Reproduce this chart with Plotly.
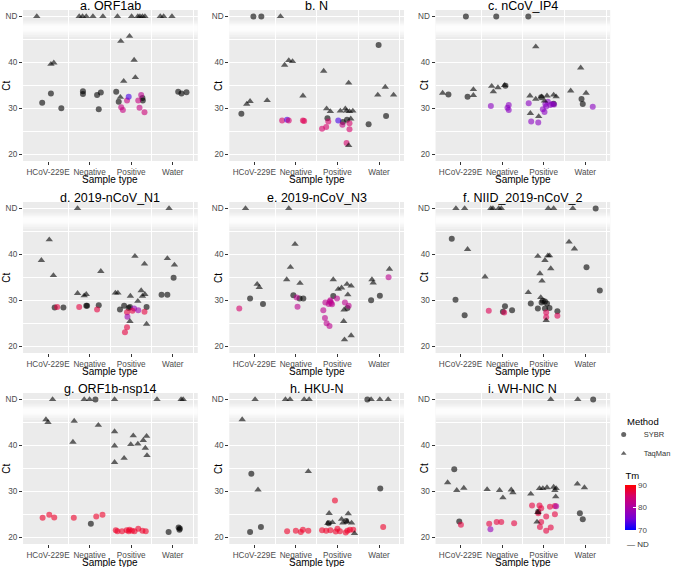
import plotly.graph_objects as go
from plotly.subplots import make_subplots

W, H = 676, 567

CATEGORIES = ["HCoV-229E", "Negative", "Positive", "Water"]
TITLES = ["a. ORF1ab", "b. N", "c. nCoV_IP4",
          "d. 2019-nCoV_N1", "e. 2019-nCoV_N3", "f. NIID_2019-nCoV_2",
          "g. ORF1b-nsp14", "h. HKU-N", "i. WH-NIC N"]
ND = "ND"
ND_LEVEL = 50
CT_TICKS = [20, 30, 40, ND_LEVEL]
CT_LABELS = ["20", "30", "40", "ND"]

# (jittered sample type position, Ct or "ND", method S=SYBR / T=TaqMan, Tm or None)
ORF1AB = [
    (0.73, ND, "T", None), (1.75, ND, "T", None), (1.83, ND, "T", None), (1.92, ND, "T", None),
    (2.08, ND, "T", None), (2.32, ND, "T", None), (2.67, ND, "T", None), (3.01, ND, "T", None),
    (3.16, ND, "T", None), (3.21, ND, "T", None), (3.27, ND, "T", None), (3.33, ND, "T", None),
    (3.70, ND, "T", None), (3.78, ND, "T", None), (3.98, ND, "T", None),
    (0.86, 31.2, "S", None), (1.07, 33.2, "S", None), (1.07, 39.6, "T", None), (1.14, 39.9, "T", None),
    (1.32, 30.0, "S", None), (1.84, 33.7, "S", None), (1.84, 33.1, "S", None), (2.18, 32.9, "S", None),
    (2.27, 33.4, "S", None), (2.22, 29.8, "S", None), (2.75, 44.6, "T", None), (2.96, 45.7, "T", None),
    (3.07, 40.5, "T", None), (3.10, 36.7, "T", None), (2.82, 35.9, "T", None), (2.64, 33.6, "S", None),
    (2.74, 32.4, "T", None), (2.70, 31.4, "S", None), (2.76, 30.2, "S", 83), (2.80, 29.6, "S", 83),
    (2.90, 31.7, "S", 83), (2.94, 32.5, "S", 73), (3.17, 31.7, "S", 83), (3.20, 30.1, "S", 83),
    (3.24, 32.9, "S", 82), (3.27, 32.2, "S", None), (3.28, 31.7, "S", None), (3.32, 29.1, "S", 84),
    (4.13, 33.6, "S", None), (4.21, 33.2, "S", None), (4.33, 33.5, "S", None),
]
N = [
    (0.98, ND, "S", None), (1.17, ND, "S", None), (1.63, ND, "T", None),
    (0.69, 28.8, "S", None), (0.82, 30.9, "T", None), (0.90, 31.5, "T", None), (1.31, 31.7, "T", None),
    (1.73, 39.4, "T", None), (1.83, 40.4, "T", None), (1.92, 40.2, "T", None), (2.17, 32.7, "T", None),
    (1.67, 27.3, "S", 85), (1.79, 27.5, "S", 73), (1.83, 27.3, "S", 85), (2.17, 27.3, "S", 86),
    (2.20, 27.2, "S", 86),
    (2.67, 38.1, "T", None), (2.74, 29.9, "T", None), (2.83, 29.3, "T", None), (2.76, 27.8, "S", None),
    (2.78, 27.1, "S", 85), (2.63, 25.5, "S", 85), (2.73, 25.9, "S", 85), (3.02, 27.3, "S", 73),
    (3.07, 29.4, "T", None), (3.19, 29.9, "T", None), (3.22, 29.4, "T", None), (3.27, 35.5, "T", None),
    (3.29, 29.3, "T", None), (3.37, 29.4, "T", None), (3.13, 27.0, "S", None), (3.12, 26.4, "S", 83),
    (3.29, 26.7, "S", 85), (3.29, 25.4, "S", 85), (3.32, 27.7, "T", None), (3.23, 27.5, "S", None),
    (3.22, 22.4, "S", 85), (3.27, 21.9, "T", None),
    (3.97, 32.9, "T", None), (4.15, 34.6, "T", None), (4.35, 32.9, "T", None), (3.99, 43.8, "S", None),
    (3.75, 26.5, "S", None), (4.17, 28.3, "S", None),
]
NCOV_IP4 = [
    (1.13, ND, "S", None), (1.86, ND, "S", None), (2.63, ND, "S", None),
    (0.57, 33.3, "T", None), (0.71, 33.0, "S", None), (1.17, 32.5, "S", None), (1.31, 34.1, "T", None),
    (1.31, 32.8, "T", None),
    (1.75, 34.8, "T", None), (1.79, 33.6, "T", None), (1.90, 34.5, "T", None), (2.06, 35.0, "T", None),
    (2.08, 34.9, "S", None), (1.73, 30.5, "S", 77), (2.13, 30.1, "S", 77), (2.16, 30.7, "S", 77),
    (2.16, 29.6, "S", 77),
    (2.81, 43.4, "T", None), (2.67, 32.7, "T", None), (2.81, 32.0, "T", None), (2.94, 32.4, "S", None),
    (2.95, 32.5, "T", None), (3.08, 32.7, "T", None), (3.24, 32.9, "T", None), (3.30, 32.5, "T", None),
    (3.02, 31.6, "T", None), (2.64, 31.1, "S", 77), (3.10, 31.4, "S", 77), (3.04, 30.9, "S", 77),
    (3.06, 30.4, "S", 77), (2.98, 29.8, "S", 77), (3.02, 29.2, "S", 77), (3.16, 30.7, "S", 77),
    (3.21, 30.9, "S", 77), (3.25, 30.8, "S", 77), (3.24, 31.0, "S", None), (2.68, 28.9, "T", None),
    (2.88, 28.2, "T", None), (2.70, 27.1, "S", 77), (2.87, 26.9, "S", 77),
    (3.65, 33.8, "T", None), (3.89, 38.8, "T", None), (4.02, 33.3, "T", None), (3.91, 32.0, "S", None),
    (3.94, 30.9, "S", None), (4.18, 30.3, "S", 77),
]
NCOV_N1 = [
    (1.71, ND, "T", None), (3.91, ND, "T", None),
    (0.84, 38.7, "T", None), (1.03, 43.2, "T", None), (1.13, 35.4, "T", None), (1.16, 28.4, "S", None),
    (1.22, 28.5, "S", 87), (1.37, 28.4, "S", None),
    (1.71, 31.5, "T", None), (1.87, 31.0, "T", None), (1.92, 31.3, "T", None), (1.92, 28.8, "S", None),
    (1.94, 28.8, "S", None), (1.75, 28.5, "S", 87), (2.27, 36.3, "T", None), (2.22, 28.9, "S", None),
    (2.18, 28.0, "S", 87),
    (2.62, 31.6, "T", None), (2.68, 31.6, "T", None), (2.73, 28.0, "S", None), (2.83, 28.8, "S", None),
    (2.98, 30.9, "T", None), (3.09, 39.6, "T", None), (3.24, 32.1, "T", None), (3.27, 30.9, "T", None),
    (3.33, 31.3, "T", None), (3.32, 37.9, "T", None), (3.16, 29.8, "T", None), (2.97, 28.5, "S", None),
    (2.94, 28.3, "S", None), (2.90, 27.4, "S", 87), (2.91, 26.4, "S", 79), (2.90, 24.1, "S", 87),
    (2.85, 23.0, "S", 87), (3.07, 28.2, "S", 78), (3.03, 27.7, "S", 87), (3.17, 27.8, "S", 79),
    (3.32, 27.5, "S", 87), (3.37, 28.5, "S", None), (2.97, 25.4, "T", None), (3.37, 24.8, "T", None),
    (3.73, 31.2, "S", None), (3.87, 31.2, "S", None), (3.87, 39.1, "T", None), (4.04, 37.7, "T", None),
    (4.02, 34.9, "S", None),
]
NCOV_N3 = [
    (0.79, ND, "T", None), (1.83, ND, "T", None),
    (0.64, 28.2, "S", 85), (0.90, 30.4, "S", None), (1.07, 33.5, "T", None), (1.12, 32.8, "T", None),
    (1.21, 29.2, "S", None),
    (1.98, 42.2, "T", None), (1.87, 37.2, "T", None), (1.78, 34.5, "T", None), (2.10, 33.7, "T", None),
    (1.94, 31.1, "S", None), (2.02, 30.6, "S", 82), (2.09, 30.4, "S", None), (2.18, 30.4, "S", None),
    (2.04, 28.6, "S", 82),
    (2.90, 34.5, "T", None), (3.02, 32.4, "T", None), (3.10, 32.7, "T", None), (3.23, 33.5, "T", None),
    (3.33, 33.1, "T", None), (2.90, 30.9, "S", None), (2.99, 30.4, "S", 82), (2.82, 29.7, "S", 82),
    (2.71, 29.5, "S", 82), (2.79, 29.2, "S", 82), (2.83, 30.0, "S", 82), (2.87, 29.1, "S", 82),
    (2.85, 29.4, "S", 82), (2.66, 27.8, "S", 82), (2.70, 26.1, "S", 82), (2.74, 25.0, "S", 82),
    (2.81, 24.4, "S", 82), (3.18, 29.5, "S", 82), (3.27, 28.8, "S", 82), (3.25, 31.2, "T", None),
    (3.24, 28.3, "S", None), (3.16, 27.9, "T", None), (3.15, 25.4, "T", None), (3.17, 21.4, "T", None),
    (3.33, 22.3, "T", None),
    (3.83, 34.5, "T", None), (3.86, 33.8, "T", None), (3.81, 30.0, "S", None), (4.02, 31.0, "S", None),
    (4.25, 36.8, "T", None), (4.23, 35.0, "S", 82),
]
NIID_2 = [
    (0.89, ND, "T", None), (1.10, ND, "T", None), (1.73, ND, "T", None), (1.78, ND, "T", None),
    (1.92, ND, "T", None), (1.98, ND, "T", None), (3.11, ND, "T", None), (3.24, ND, "T", None),
    (3.70, ND, "T", None), (4.25, ND, "S", None),
    (0.79, 43.4, "S", None), (1.17, 41.1, "T", None), (0.88, 30.1, "S", None), (1.10, 26.7, "S", None),
    (1.59, 35.1, "T", None), (1.68, 27.7, "S", 86), (2.07, 28.7, "S", None), (2.02, 27.5, "S", None),
    (2.05, 27.3, "S", 86), (2.24, 27.8, "S", None),
    (2.86, 39.6, "T", None), (3.10, 39.7, "T", None), (3.14, 39.7, "T", None), (3.03, 38.7, "T", None),
    (3.17, 36.9, "T", None), (2.91, 35.8, "T", None), (2.96, 34.2, "T", None), (2.63, 31.7, "T", None),
    (2.93, 30.6, "T", None), (2.69, 29.3, "S", None), (2.95, 29.5, "S", None), (2.98, 29.9, "S", None),
    (3.03, 29.7, "S", None), (3.08, 29.3, "S", None), (2.86, 28.2, "S", None), (3.03, 28.2, "S", None),
    (3.14, 28.3, "S", None), (3.06, 27.3, "S", 86), (3.06, 26.3, "S", 86), (3.06, 25.6, "T", None),
    (3.33, 27.6, "S", None), (3.33, 26.6, "S", 86),
    (3.61, 42.7, "T", None), (3.74, 41.2, "T", None), (4.03, 37.2, "S", None), (4.35, 32.1, "S", None),
]
ORF1B_NSP14 = [
    (1.11, ND, "T", None), (1.87, ND, "T", None), (2.00, ND, "T", None), (2.14, ND, "S", None),
    (2.60, ND, "T", None), (3.62, ND, "T", None), (4.20, ND, "T", None), (4.25, ND, "T", None),
    (0.95, 45.6, "T", None), (1.00, 45.0, "T", None), (0.87, 24.2, "S", 88), (1.03, 24.9, "S", 88),
    (1.15, 24.3, "S", 88),
    (1.63, 45.3, "T", None), (1.60, 40.7, "T", None), (2.21, 44.4, "T", None), (1.62, 24.2, "S", 88),
    (2.03, 22.9, "S", None), (2.16, 24.5, "S", 88), (2.31, 24.9, "S", 88),
    (2.60, 43.0, "T", None), (2.60, 39.9, "T", None), (2.60, 36.3, "T", None), (2.83, 37.2, "T", None),
    (2.99, 40.2, "T", None), (3.05, 42.1, "T", None), (3.16, 40.3, "T", None), (3.29, 41.1, "T", None),
    (3.37, 42.0, "T", None), (3.34, 39.4, "T", None), (3.38, 37.8, "T", None),
    (2.63, 21.5, "S", 88), (2.67, 21.3, "S", 88), (2.78, 21.3, "S", 88), (2.89, 21.5, "S", 88),
    (2.94, 21.3, "S", 88), (2.96, 21.6, "S", 88), (3.02, 21.4, "S", 88), (3.08, 21.3, "S", 88),
    (3.17, 21.8, "S", 88), (3.27, 21.4, "S", 88), (3.35, 21.3, "S", 88),
    (3.90, 21.1, "S", None), (4.14, 22.1, "S", None), (4.16, 21.6, "S", None), (4.17, 21.9, "S", None),
]
HKU_N = [
    (1.02, ND, "T", None), (1.75, ND, "T", None), (1.86, ND, "T", None), (2.20, ND, "T", None),
    (2.32, ND, "T", None), (3.72, ND, "S", None), (3.81, ND, "T", None), (4.02, ND, "T", None),
    (4.22, ND, "T", None),
    (0.71, 45.6, "T", None), (0.93, 33.8, "S", None), (1.09, 30.3, "T", None), (1.16, 22.2, "S", None),
    (0.90, 21.1, "S", None),
    (2.30, 34.3, "T", None), (1.79, 21.3, "S", 88), (2.00, 21.4, "S", 88), (2.12, 21.1, "S", 88),
    (2.17, 21.6, "S", 88), (2.30, 21.4, "S", 88),
    (2.94, 28.0, "S", 88), (2.80, 25.2, "T", None), (2.77, 23.0, "T", None), (2.88, 23.2, "T", None),
    (3.10, 23.9, "T", None), (3.13, 23.1, "T", None), (3.26, 25.1, "T", None), (3.23, 23.4, "T", None),
    (3.34, 23.1, "T", None), (3.41, 20.8, "T", None), (3.21, 23.5, "S", None), (2.79, 23.0, "S", None),
    (2.63, 21.5, "S", 88), (2.73, 21.4, "S", 88), (2.83, 21.5, "S", 88), (2.96, 21.2, "S", 88),
    (3.00, 21.8, "S", 88), (3.06, 21.3, "S", 88), (3.20, 21.0, "S", 88), (3.24, 21.4, "S", 88),
    (3.30, 21.6, "S", 88), (3.38, 21.6, "S", 88),
    (4.03, 30.6, "S", None), (4.10, 22.2, "S", 88),
]
WH_NIC_N = [
    (3.17, ND, "T", None), (3.82, ND, "T", None), (4.19, ND, "S", None),
    (0.85, 34.8, "S", None), (0.69, 31.9, "T", None), (0.91, 30.2, "T", None), (1.08, 30.7, "T", None),
    (0.97, 23.4, "S", None), (1.01, 22.7, "S", 87),
    (1.64, 30.4, "T", None), (1.94, 30.2, "T", None), (2.02, 28.6, "T", None), (2.22, 30.3, "T", None),
    (2.26, 29.7, "T", None), (1.69, 22.9, "S", 87), (1.72, 21.7, "S", 78), (1.87, 23.3, "S", 87),
    (1.98, 23.3, "S", 87), (2.29, 23.0, "S", 87),
    (2.69, 29.4, "T", None), (2.90, 30.6, "T", None), (2.98, 30.6, "T", None), (3.08, 30.8, "T", None),
    (3.24, 30.9, "T", None), (3.30, 30.6, "T", None), (3.27, 30.2, "T", None), (3.29, 28.8, "T", None),
    (2.86, 25.4, "T", None), (2.84, 23.3, "T", None),
    (2.72, 26.9, "S", 87), (2.90, 26.9, "S", 87), (2.94, 26.3, "S", 87), (3.15, 26.6, "S", 87),
    (3.27, 26.8, "S", 87), (3.27, 25.0, "S", 87), (2.87, 25.2, "S", 87), (3.06, 24.5, "S", 87),
    (2.94, 23.3, "S", 87), (2.91, 22.2, "S", 87), (3.17, 22.1, "S", 87), (3.06, 21.4, "S", 87),
    (3.30, 26.7, "S", 80), (2.87, 25.5, "S", None),
    (3.81, 31.6, "T", None), (3.98, 30.8, "T", None), (3.87, 25.2, "S", None), (3.94, 23.9, "S", None),
]
PANELS = [ORF1AB, N, NCOV_IP4, NCOV_N1, NCOV_N3, NIID_2, ORF1B_NSP14, HKU_N, WH_NIC_N]

# panel geometry in pixels
COL_LEFT = [23.3, 231.7, 440.1]
COL_W = 176.5
ROW_TOP = [10, 202, 393]
ROW_H = 151
PANEL_BG = "#EBEBEB"
TM_SCALE = [[0, "#0000FF"], [0.25, "#7500D6"], [0.5, "#AA00A4"], [0.75, "#D5006A"], [1, "#FF0000"]]
SYMBOLS = {"S": "circle", "T": "triangle-up"}
NAMES = {"S": "SYBR", "T": "TaqMan"}
FONT = "Liberation Sans, Arial, sans-serif"


def px(x):
    return x / W


def py(y):
    return 1 - y / H


fig = make_subplots(rows=3, cols=3)

for i, pts in enumerate(PANELS):
    r, c = i // 3, i % 3
    for m in ["S", "T"]:
        grey = [p for p in pts if p[2] == m and p[3] is None]
        col = [p for p in pts if p[2] == m and p[3] is not None]
        fig.add_trace(go.Scatter(
            x=[p[0] for p in grey],
            y=[ND_LEVEL if p[1] == ND else p[1] for p in grey],
            mode="markers", showlegend=False, hoverinfo="skip",
            marker=dict(symbol=SYMBOLS[m], size=6.5 if m == "T" else 6, color="black",
                        opacity=0.6, line=dict(width=0)),
        ), row=r + 1, col=c + 1)
        if col:
            fig.add_trace(go.Scatter(
                x=[p[0] for p in col],
                y=[ND_LEVEL if p[1] == ND else p[1] for p in col],
                mode="markers", showlegend=False, hoverinfo="skip",
                marker=dict(symbol=SYMBOLS[m], size=6, color=[p[3] for p in col],
                            colorscale=TM_SCALE, cmin=70, cmax=90, opacity=0.6,
                            line=dict(width=0), showscale=False),
            ), row=r + 1, col=c + 1)

# legend + colour bar carriers
for m in ["S", "T"]:
    fig.add_trace(go.Scatter(
        x=[None], y=[None], mode="markers", name=NAMES[m],
        marker=dict(symbol=SYMBOLS[m], size=5, color="black", opacity=0.6),
    ), row=1, col=1)
fig.add_trace(go.Scatter(
    x=[None], y=[None], mode="markers", showlegend=False,
    marker=dict(color=[70], colorscale=TM_SCALE, cmin=70, cmax=90, showscale=True,
                colorbar=dict(
                    x=px(632), xanchor="left", y=py(469), yanchor="top",
                    len=61, lenmode="pixels", thickness=11, xpad=0, ypad=0,
                    outlinewidth=0, tickvals=[70, 80, 90], ticks="inside",
                    ticklen=3, tickcolor="white",
                    tickfont=dict(size=8, color="#4D4D4D", family=FONT),
                    title=dict(text="Tm", side="top", font=dict(size=9.5, color="black", family=FONT)),
                )),
), row=1, col=1)

annotations = []
shapes = []
for i in range(9):
    r, c = i // 3, i % 3
    left, top = COL_LEFT[c], ROW_TOP[r]
    xa = "xaxis" if i == 0 else f"xaxis{i + 1}"
    ya = "yaxis" if i == 0 else f"yaxis{i + 1}"
    fig.layout[xa].update(
        domain=[px(left), px(left + COL_W)], range=[0.4, 4.6],
        tickvals=[1, 2, 3, 4], ticktext=CATEGORIES, tickangle=0, showgrid=False, zeroline=False,
        ticks="outside", ticklen=3, tickcolor="#333333",
        tickfont=dict(size=8.2, color="#4D4D4D", family=FONT),
        minor=dict(tickvals=[1.5, 2.5, 3.5, 4.5], showgrid=True, gridcolor="white",
                   gridwidth=1, ticks=""),
        automargin=False,
    )
    fig.layout[ya].update(
        domain=[py(top + ROW_H), py(top)], range=[18.5, 51.4],
        tickvals=CT_TICKS, ticktext=CT_LABELS, showgrid=True, gridcolor="white",
        gridwidth=1, zeroline=False, ticks="outside", ticklen=3, tickcolor="#333333",
        tickfont=dict(size=8.2, color="#4D4D4D", family=FONT),
        minor=dict(tickvals=[25, 35, 45], showgrid=True, gridcolor="white",
                   gridwidth=0.5, ticks=""),
        automargin=False,
    )
    xr = "x" if i == 0 else f"x{i + 1}"
    yr = "y" if i == 0 else f"y{i + 1}"
    # panel background, then a soft white break between the ND strip and the Ct range
    shapes.append(dict(type="rect", xref=f"{xr} domain", yref=f"{yr} domain", x0=0, x1=1,
                       y0=0, y1=1, fillcolor=PANEL_BG, line=dict(width=0), layer="below"))
    for y0, y1, op in [(45.5, 49.1, 0.25), (46.0, 48.7, 0.35), (46.5, 48.3, 0.5), (46.9, 48.0, 0.6)]:
        shapes.append(dict(type="rect", xref=f"{xr} domain", yref=yr, x0=0, x1=1,
                           y0=y0, y1=y1, fillcolor="white", opacity=op,
                           line=dict(width=0), layer="below"))
    annotations.append(dict(text=TITLES[i], x=px(left + COL_W / 2), y=py(top - 4.5),
                            xref="paper", yref="paper", xanchor="center", yanchor="middle",
                            showarrow=False, font=dict(size=12.5, color="black", family=FONT)))
    annotations.append(dict(text="Sample type", x=px(left + COL_W / 2),
                            y=py(top + ROW_H + 18.5), xref="paper", yref="paper",
                            xanchor="center", yanchor="middle", showarrow=False,
                            font=dict(size=10, color="black", family=FONT)))
    annotations.append(dict(text="Ct", x=px(left - (17 if c == 0 else 11)),
                            y=py(top + ROW_H * 0.5), xref="paper", yref="paper",
                            xanchor="center", yanchor="middle", textangle=-90, showarrow=False,
                            font=dict(size=10, color="black", family=FONT)))

annotations.append(dict(text="Method", x=px(632), y=py(421), xref="paper", yref="paper",
                        xanchor="left", yanchor="middle", showarrow=False,
                        font=dict(size=9.5, color="black", family=FONT)))
annotations.append(dict(text="— ND", x=px(632), y=py(544), xref="paper", yref="paper",
                        xanchor="left", yanchor="middle", showarrow=False,
                        font=dict(size=8, color="#333333", family=FONT)))

fig.update_layout(
    width=W, height=H, margin=dict(l=0, r=0, t=0, b=0),
    paper_bgcolor="white", plot_bgcolor="rgba(0,0,0,0)",
    font=dict(family=FONT),
    shapes=shapes, annotations=annotations,
    legend=dict(x=px(610), y=py(420), xanchor="left", yanchor="top",
                font=dict(size=7.5, color="#333333", family=FONT),
                bgcolor="rgba(0,0,0,0)", itemwidth=30, tracegroupgap=0),
)

# the page's default body margin would push the figure 8px in; drop it
fig.write_html("out.html", config={"displayModeBar": False},
               post_script="document.body.style.margin = '0';")
